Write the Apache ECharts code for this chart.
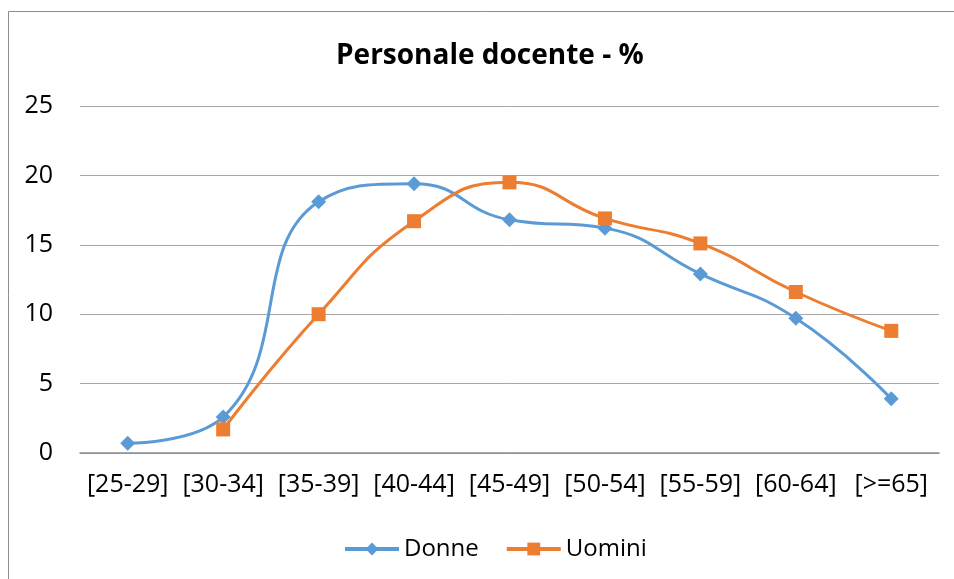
<!DOCTYPE html>
<html><head><meta charset="utf-8">
<script src="https://cdn.jsdelivr.net/npm/echarts@6/dist/echarts.min.js"></script>
<style>html,body{margin:0;padding:0;background:#fff}#c{width:954px;height:579px}</style>
</head><body><div id="c"></div>
<script>
var titleText = 'Personale docente - %';
var categories = ['[25-29]','[30-34]','[35-39]','[40-44]','[45-49]','[50-54]','[55-59]','[60-64]','[>=65]'];
var donne = [0.7, 2.6, 18.1, 19.4, 16.8, 16.2, 12.9, 9.7, 3.9];
var uomini = [null, 1.7, 10.0, 16.7, 19.5, 16.9, 15.1, 11.6, 8.8];
var yTicks = [0, 5, 10, 15, 20, 25];

var font = '"Open Sans", sans-serif';
var chart = echarts.init(document.getElementById('c'), null, {renderer: 'canvas'});
chart.setOption({
  animation: false,
  backgroundColor: '#fff',
  graphic: [{type: 'rect', shape: {x: 8.5, y: 11.5, width: 960, height: 600}, style: {fill: 'none', stroke: '#8c8c8c', lineWidth: 1}, silent: true}],
  title: {text: titleText, left: 336, top: 42, padding: 0, textStyle: {fontFamily: font, fontSize: 28, fontWeight: 'bold', color: '#000'}},
  legend: {top: 532, left: 338, itemWidth: 54, itemHeight: 16, itemGap: 26,
    textStyle: {fontFamily: font, fontSize: 24, color: '#000'},
    lineStyle: {width: 4},
    data: ['Donne', 'Uomini']},
  grid: {left: 80, right: 15, top: 106, bottom: 126, containLabel: false},
  xAxis: {type: 'category', data: categories, boundaryGap: true,
    axisLine: {lineStyle: {color: '#8c8c8c', width: 1.5}}, axisTick: {show: false},
    axisLabel: {fontFamily: font, fontSize: 25, color: '#000', margin: 19, interval: 0}},
  yAxis: {type: 'value', min: yTicks[0], max: yTicks[yTicks.length-1], interval: 5,
    axisLine: {show: false}, axisTick: {show: false},
    axisLabel: {fontFamily: font, fontSize: 25, color: '#000', margin: 27},
    splitLine: {lineStyle: {color: '#a6a6a6', width: 1}}},
  series: [
    {name: 'Donne', type: 'line', data: donne, smooth: 0.5, symbol: 'diamond', symbolSize: 15,
     lineStyle: {width: 3, color: '#5B9BD5'}, itemStyle: {color: '#5B9BD5'}},
    {name: 'Uomini', type: 'line', data: uomini, smooth: 0.5, symbol: 'rect', symbolSize: 14,
     lineStyle: {width: 3, color: '#ED7D31'}, itemStyle: {color: '#ED7D31'}}
  ]
});
</script></body></html>
